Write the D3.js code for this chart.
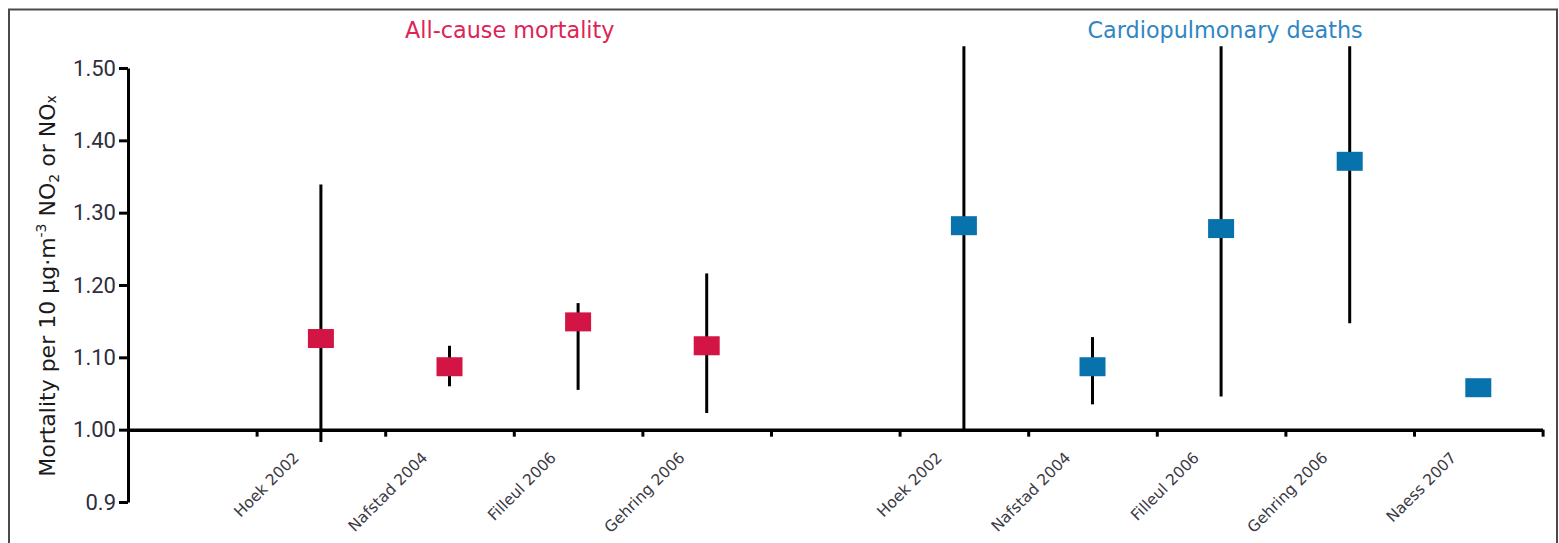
<!DOCTYPE html>
<html>
<head>
<meta charset="utf-8">
<script src="https://cdn.jsdelivr.net/npm/d3@7"></script>
<style>
  html, body { margin: 0; padding: 0; background: #fff; }
  svg { display: block; }
</style>
</head>
<body>
<svg id="chart" width="1559" height="543"></svg>
<script>
// Data (relative risk per 10 ug/m3, with 95% CI)
const allCauseStudies = ["Hoek 2002", "Nafstad 2004", "Filleul 2006", "Gehring 2006"];
const allCauseRR   = [1.126, 1.087, 1.149, 1.116];
const allCauseLow  = [0.983, 1.060, 1.055, 1.023];
const allCauseHigh = [1.339, 1.116, 1.175, 1.216];

const cardioStudies = ["Hoek 2002", "Nafstad 2004", "Filleul 2006", "Gehring 2006", "Naess 2007"];
const cardioRR   = [1.282, 1.087, 1.278, 1.371, 1.058];
const cardioLow  = [1.000, 1.035, 1.046, 1.147, null];
const cardioHigh = [1.530, 1.128, 1.530, 1.530, null];

const yTickValues = [0.9, 1.0, 1.1, 1.2, 1.3, 1.4, 1.5];
const yTickLabels = ["0.9", "1.00", "1.10", "1.20", "1.30", "1.40", "1.50"];

const groupTitles = ["All-cause mortality", "Cardiopulmonary deaths"];

// Layout
const svg = d3.select("#chart");
const red = "#d31545", blue = "#0872ad";
const plotLeft = 128, plotRight = 1542.6;
const nSlots = 11;

const x = d3.scaleLinear().domain([0, nSlots]).range([plotLeft, plotRight]);
const y = d3.scaleLinear().domain([0.9, 1.5]).range([502, 68]);

// frame
svg.append("rect")
    .attr("x", 9).attr("y", 9.5)
    .attr("width", 1548).attr("height", 560)
    .attr("fill", "none")
    .attr("stroke", "#4a4a4a")
    .attr("stroke-width", 2);

// build point records: all-cause in slots 1..4, cardio in slots 6..10
const points = [];
allCauseStudies.forEach((s, i) => points.push({
    study: s, slot: 1 + i, rr: allCauseRR[i], lo: allCauseLow[i], hi: allCauseHigh[i], color: red
}));
cardioStudies.forEach((s, i) => points.push({
    study: s, slot: 6 + i, rr: cardioRR[i], lo: cardioLow[i], hi: cardioHigh[i], color: blue
}));

// y axis
const yAxis = svg.append("g")
    .attr("transform", `translate(${plotLeft},0)`)
    .call(d3.axisLeft(y)
        .tickValues(yTickValues)
        .tickFormat((d, i) => yTickLabels[i])
        .tickSize(9)
        .tickSizeOuter(0)
        .tickPadding(3));
yAxis.select(".domain").attr("stroke", "#000").attr("stroke-width", 3);
yAxis.selectAll(".tick line").attr("stroke", "#000").attr("stroke-width", 3);
yAxis.selectAll(".tick text")
    .attr("font-family", "Roboto, sans-serif")
    .attr("font-size", 22)
    .attr("fill", "#2e2e3c");

// y axis title
const yTitle = svg.append("text")
    .attr("transform", "translate(55,286) rotate(-90)")
    .attr("text-anchor", "middle")
    .attr("font-family", "DejaVu Sans, sans-serif")
    .attr("font-size", 22)
    .attr("fill", "#1a1a1a");
yTitle.append("tspan").text("Mortality per 10 µg·m");
yTitle.append("tspan").attr("font-size", 14).attr("dy", -9).text("-3");
yTitle.append("tspan").attr("dy", 9).text(" NO");
yTitle.append("tspan").attr("font-size", 14).attr("dy", 4).text("2");
yTitle.append("tspan").attr("dy", -4).text(" or NO");
yTitle.append("tspan").attr("font-size", 14).attr("dy", 1).text("x");

// error bars
svg.append("g")
    .selectAll("line")
    .data(points.filter(d => d.lo != null))
    .join("line")
    .attr("x1", d => x(d.slot + 0.5))
    .attr("x2", d => x(d.slot + 0.5))
    .attr("y1", d => y(d.lo))
    .attr("y2", d => y(d.hi))
    .attr("stroke", "#000")
    .attr("stroke-width", 3);

// x axis at RR = 1.00
const xAxis = svg.append("g")
    .attr("transform", `translate(0,${y(1.0)})`)
    .call(d3.axisBottom(x)
        .tickValues(d3.range(1, nSlots + 1))
        .tickFormat("")
        .tickSize(7)
        .tickSizeOuter(0));
xAxis.select(".domain").attr("stroke", "#000").attr("stroke-width", 3.5);
xAxis.selectAll(".tick line").attr("stroke", "#000").attr("stroke-width", 3);

// markers
const mw = 26, mh = 19;
svg.append("g")
    .selectAll("rect")
    .data(points)
    .join("rect")
    .attr("x", d => x(d.slot + 0.5) - mw / 2)
    .attr("y", d => y(d.rr) - mh / 2)
    .attr("width", mw)
    .attr("height", mh)
    .attr("fill", d => d.color);

// study labels, rotated
svg.append("g")
    .selectAll("text")
    .data(points)
    .join("text")
    .attr("transform", d => `translate(${x(d.slot + 0.5) - 21},${y(1.0) + 29}) rotate(-45)`)
    .attr("text-anchor", "end")
    .attr("font-family", "DejaVu Sans, sans-serif")
    .attr("font-size", 15.5)
    .attr("fill", "#3a3a44")
    .text(d => d.study);

// group titles
svg.append("g")
    .selectAll("text")
    .data(groupTitles)
    .join("text")
    .attr("x", (d, i) => i === 0 ? x(3) - 4 : x(8.5) + 4)
    .attr("y", 38)
    .attr("text-anchor", "middle")
    .attr("font-family", "DejaVu Sans, sans-serif")
    .attr("font-size", 22.3)
    .attr("fill", (d, i) => i === 0 ? "#dc2458" : "#2f86c2")
    .text(d => d);
</script>
</body>
</html>
